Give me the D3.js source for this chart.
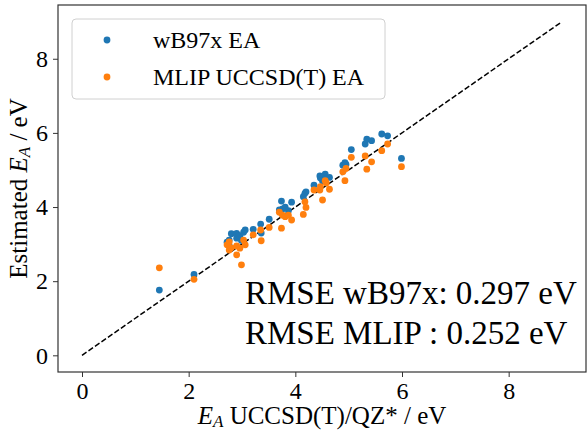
<!DOCTYPE html>
<html>
<head>
  <meta charset="utf-8">
  <title>EA parity</title>
  <script src="https://cdn.jsdelivr.net/npm/d3@7"></script>
  <style>
  body { margin: 0; background: white; }
  text { font-family: "Liberation Serif", "Times New Roman", serif; fill: black; }
  </style>
</head>
<body>
  <div id='container'></div>
  <script>

  // reference values, eV
  var refEA = [1.45, 2.10, 2.72, 2.76, 2.76, 2.80, 2.90, 2.90, 2.96, 2.99, 3.03, 3.06, 3.21, 3.35,
    3.36, 3.51, 3.70, 3.74, 3.76, 3.81, 3.87, 3.93, 4.15, 4.18, 4.20, 4.35, 4.46, 4.47,
    4.51, 4.56, 4.58, 4.64, 4.89, 4.93, 4.95, 5.05, 5.31, 5.34, 5.43, 5.62, 5.73, 5.99]
  var wb97xEA = [1.76, 2.18, 3.05, 3.11, 2.95, 3.28, 3.29, 3.16, 3.22, 3.10, 3.32, 3.38, 3.40, 3.54,
    3.30, 3.67, 3.92, 4.16, 3.95, 4.00, 3.90, 4.13, 4.28, 4.37, 4.41, 4.59, 4.84, 4.78,
    4.70, 4.89, 4.77, 4.80, 5.13, 5.20, 5.15, 5.55, 5.70, 5.83, 5.79, 5.97, 5.92, 5.31]
  var mlipEA = [2.36, 2.05, 2.98, 3.06, 2.84, 2.90, 2.71, 2.95, 2.89, 2.44, 3.11, 2.98, 3.25, 3.38,
    3.09, 3.45, 3.86, 3.43, 3.78, 3.74, 3.78, 3.65, 3.80, 4.14, 3.99, 4.46, 4.46, 4.55,
    4.19, 4.71, 4.65, 4.48, 4.95, 4.71, 5.04, 5.34, 5.38, 5.02, 5.22, 5.52, 5.70, 5.09]
  var ticks = [0, 2, 4, 6, 8]
  var seriesNames = ['wB97x EA', 'MLIP UCCSD(T) EA']
  var seriesColors = ['#1f77b4', '#ff7f0e']
  var rmseLines = ['RMSE wB97x: 0.297 eV', 'RMSE MLIP : 0.252 eV']
  var diagonal = [0, 9]

  const width = 587
  const height = 434
  var margin = {left: 58, right: 1, top: 5, bottom: 62}

  var svg = d3.select('#container')
    .append('svg')
    .attr('width', width)
    .attr('height', height)

  var xScale = d3.scaleLinear()
    .domain([-0.45, 9.45])
    .range([margin.left, width - margin.right])

  var yScale = d3.scaleLinear()
    .domain([-0.45, 9.45])
    .range([height - margin.bottom, margin.top])

  var xAxis = d3.axisBottom(xScale).tickValues(ticks).tickSize(5).tickPadding(5)
  var yAxis = d3.axisLeft(yScale).tickValues(ticks).tickSize(5).tickPadding(5)

  var gx = svg.append('g')
    .attr('transform', 'translate(0,' + (height - margin.bottom) + ')')
    .call(xAxis)
  var gy = svg.append('g')
    .attr('transform', 'translate(' + margin.left + ',0)')
    .call(yAxis)

  gx.select('.domain').remove()
  gy.select('.domain').remove()
  svg.selectAll('.tick line').attr('stroke', '#333').attr('stroke-width', 1)
  svg.selectAll('.tick text').style('font-size', '24px')
    .style('font-family', '"Liberation Serif", serif').attr('fill', 'black')

  // frame
  svg.append('rect')
    .attr('x', margin.left)
    .attr('y', margin.top)
    .attr('width', width - margin.right - margin.left)
    .attr('height', height - margin.bottom - margin.top)
    .style('fill', 'none')
    .style('stroke', '#333')
    .style('stroke-width', 1.2)

  // y = x
  svg.append('line')
    .attr('x1', xScale(diagonal[0])).attr('y1', yScale(diagonal[0]))
    .attr('x2', xScale(diagonal[1])).attr('y2', yScale(diagonal[1]))
    .style('stroke', 'black')
    .style('stroke-width', 1.5)
    .style('stroke-dasharray', '5.5,2.4')

  var series = [wb97xEA, mlipEA]
  series.forEach(function(vals, i){
    svg.append('g').selectAll('circle')
      .data(vals)
      .enter()
      .append('circle')
      .attr('cx', (d, j) => xScale(refEA[j]))
      .attr('cy', (d) => yScale(d))
      .attr('r', 3.4)
      .style('fill', seriesColors[i])
  })

  // legend
  var lg = svg.append('g')
  lg.append('rect')
    .attr('x', 72).attr('y', 19)
    .attr('width', 313).attr('height', 80)
    .attr('rx', 4)
    .style('fill', 'white')
    .style('fill-opacity', 0.8)
    .style('stroke', '#d0d0d0')
    .style('stroke-width', 1)
  seriesNames.forEach(function(name, i){
    lg.append('circle')
      .attr('cx', 107).attr('cy', 40 + i * 37)
      .attr('r', 3.4)
      .style('fill', seriesColors[i])
    lg.append('text')
      .attr('x', 153).attr('y', 48 + i * 37)
      .style('font-size', '24px')
      .text(name)
  })

  // rmse
  rmseLines.forEach(function(t, i){
    svg.append('text')
      .attr('x', 245).attr('y', 304 + i * 40)
      .style('font-size', '33px')
      .text(t)
  })

  // axis labels
  var xl = svg.append('text')
    .attr('x', (margin.left + width - margin.right) / 2)
    .attr('y', 424)
    .attr('text-anchor', 'middle')
    .style('font-size', '25px')
  xl.append('tspan').style('font-style', 'italic').text('E')
  xl.append('tspan').style('font-style', 'italic').style('font-size', '17px').attr('dy', 3).text('A')
  xl.append('tspan').attr('dy', -3).text(' UCCSD(T)/QZ* / eV')

  var yl = svg.append('text')
    .attr('transform', 'translate(27,' + ((margin.top + height - margin.bottom) / 2) + ') rotate(-90)')
    .attr('text-anchor', 'middle')
    .style('font-size', '25px')
  yl.append('tspan').text('Estimated ')
  yl.append('tspan').style('font-style', 'italic').text('E')
  yl.append('tspan').style('font-style', 'italic').style('font-size', '17px').attr('dy', 3).text('A')
  yl.append('tspan').attr('dy', -3).text(' / eV')

  </script>
</body>
</html>
